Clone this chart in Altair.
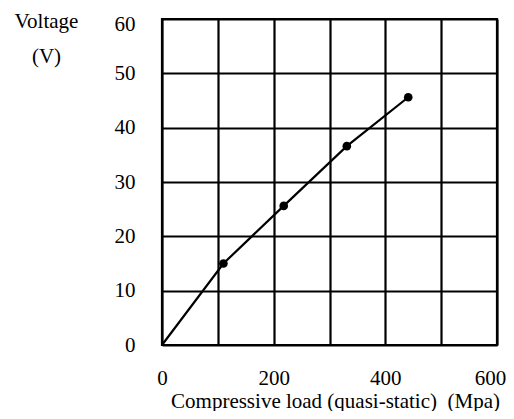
import altair as alt
import pandas as pd

load = [0, 110, 218, 331, 441]
voltage = [0, 15, 25.6, 36.6, 45.6]
x_ticks = [0, 100, 200, 300, 400, 500, 600]
y_ticks = [0, 10, 20, 30, 40, 50, 60]

df = pd.DataFrame({"load": load, "voltage": voltage})
pts = df[df["load"] > 0]

FONT = "Liberation Serif"

x_enc = alt.X(
    "load:Q",
    scale=alt.Scale(domain=[0, 600], nice=False),
    axis=alt.Axis(
        values=x_ticks,
        labelExpr="datum.value % 200 == 0 ? datum.label : ''",
        labelOffset=alt.condition("datum.value == 600", alt.value(-7), alt.value(0)),
        title="Compressive load (quasi-static) \u00a0(Mpa)",
        titleX=173,
        titleY=62,
        titleBaseline="alphabetic",
        titleAnchor="start",
        titleAlign="center",
        labelPadding=22,
        labelFlush=False,
    ),
)
y_enc = alt.Y(
    "voltage:Q",
    scale=alt.Scale(domain=[0, 60], nice=False),
    axis=alt.Axis(
        values=y_ticks,
        labelOffset=alt.condition("datum.value == 60", alt.value(5), alt.value(0)),
        title=["Voltage", "(V)"],
        titleAngle=0,
        titleAlign="center",
        titleBaseline="alphabetic",
        titleX=-116,
        titleY=8,
        titleLineHeight=35,
        labelPadding=27,
        labelFlush=False,
    ),
)

line = alt.Chart(df).mark_line(color="black", strokeWidth=2.2).encode(x=x_enc, y=y_enc)
dots = alt.Chart(pts).mark_circle(color="black", size=75, opacity=1).encode(x="load:Q", y="voltage:Q")

chart = (
    alt.layer(line, dots)
    .properties(
        width=335,
        height=326,
        autosize=alt.AutoSizeParams(type="none"),
        padding={"left": 154, "top": 11, "right": 9, "bottom": 66},
    )
    .configure_view(stroke="black", strokeWidth=2.2)
    .configure_axis(
        grid=True,
        gridColor="black",
        gridWidth=2.2,
        gridOpacity=1,
        domain=False,
        ticks=False,
        labelFont=FONT,
        labelFontSize=21,
        labelColor="black",
        titleFont=FONT,
        titleFontSize=21,
        titleFontWeight="normal",
        titleColor="black",
    )
)

chart.save("out.html", embed_options={"renderer": "svg", "actions": False})
